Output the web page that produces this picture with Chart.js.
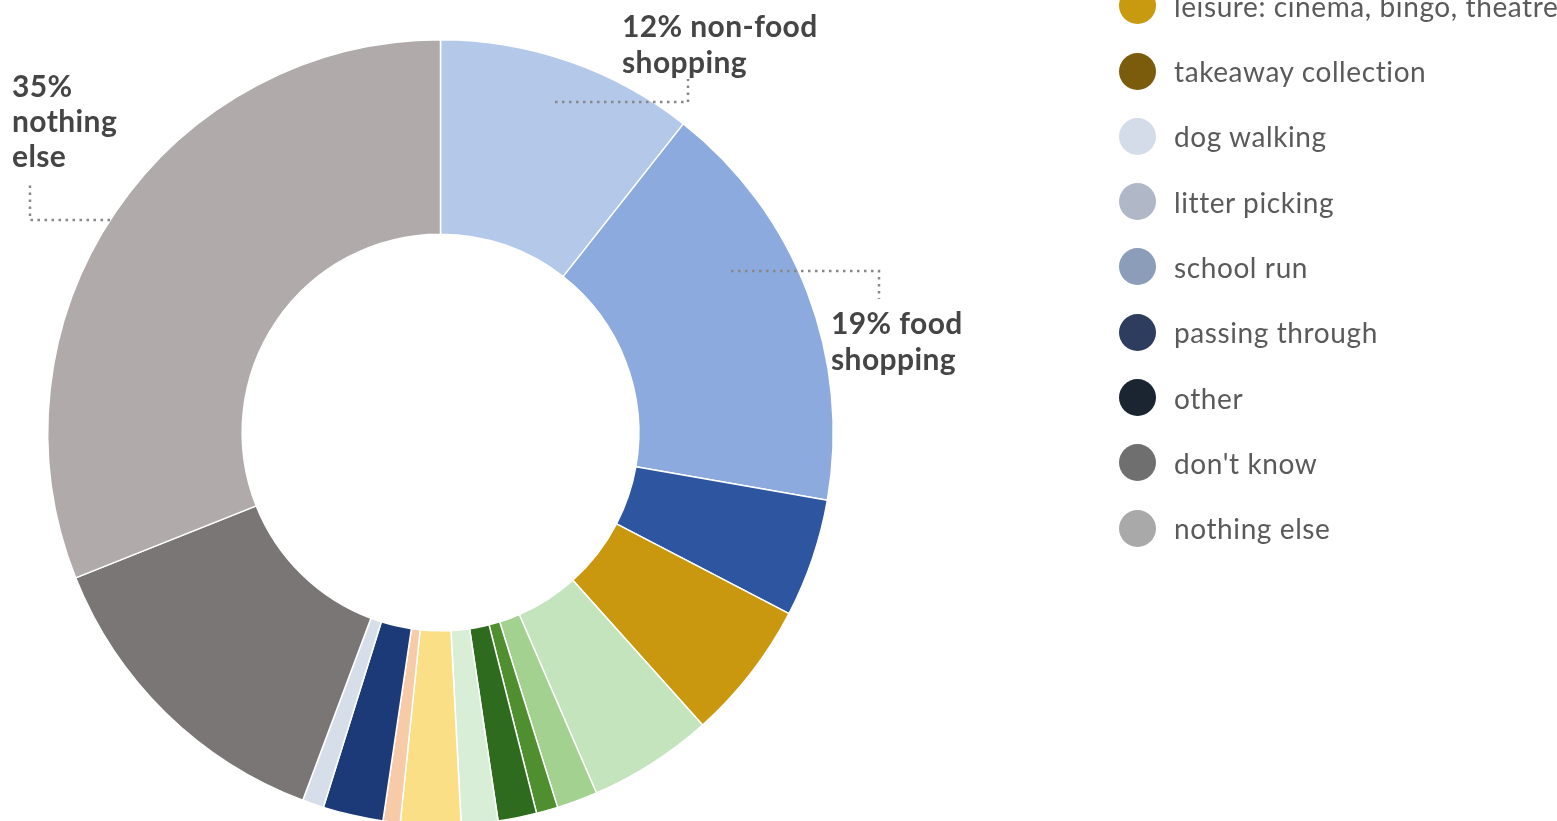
<!DOCTYPE html>
<html><head><meta charset="utf-8">
<script src="https://cdn.jsdelivr.net/npm/chart.js@4.4.1/dist/chart.umd.min.js"></script>
<style>
html,body{margin:0;padding:0;width:1557px;height:821px;overflow:hidden;background:#fff;}
#wrap{position:absolute;left:0;top:0;width:1557px;height:830px;}
.callout{position:absolute;font-family:Lato,"Open Sans",sans-serif;font-weight:700;color:#454545;font-size:30px;letter-spacing:0.4px;white-space:nowrap;}
.li{position:absolute;left:1119px;height:38px;display:flex;align-items:center;white-space:nowrap;font-family:Lato,"Open Sans",sans-serif;font-weight:400;font-size:28px;letter-spacing:0.6px;color:#5a5a5a;}
.dot{width:37px;height:37px;border-radius:50%;margin-right:18px;flex:none;}
</style></head>
<body>
<div id="wrap"><canvas id="c" width="1557" height="830" style="width:1557px;height:830px"></canvas></div>
<div id="labels"></div>
<div id="legend"></div>
<script>
// ---- data ----
const categories = ["non-food shopping","food shopping","work","leisure: cinema, bingo, theatre","eating out","café","pub","exercise","visiting friends","health services","personal services","passing through","dog walking","don't know","nothing else"];
const values = [12.0, 19.4, 5.5, 6.5, 5.8, 1.9, 1.0, 1.8, 1.7, 2.8, 0.8, 2.8, 1.0, 15.0, 35.1];
const colors = ["#b4c8ea","#8caadd","#2e55a0","#c9980e","#c4e4bd","#a3d190","#4f8f2f","#2f6b1f","#d9eed6","#fbdf86","#f8cba8","#1c3a78","#d6deea","#7a7675","#b0abaa"];
const legendLabels = ["leisure: cinema, bingo, theatre","takeaway collection","dog walking","litter picking","school run","passing through","other","don't know","nothing else"];
const legendColors = ["#c89a10","#7a5c0c","#d5dce9","#b0b8c7","#8b9db8","#2e3d5e","#1b2531","#6f6f6f","#a9a9a9"];
// callouts: index into data, text lines
const callouts = [
  {i:0, lines:["non-food","shopping"], left:622, top:7, lh:36},
  {i:1, lines:["food","shopping"], left:831, top:304, lh:36},
  {i:14, lines:["","nothing","else"], left:12, top:68, lh:35}
];
const leaders = [
  [[555,102],[688,102],[688,79]],
  [[731,271],[879,271],[879,299]],
  [[110,220],[30,220],[30,184]]
];

// ---- callout labels (HTML text) ----
const labDiv = document.getElementById('labels');
callouts.forEach(c => {
  const d = document.createElement('div');
  d.className = 'callout';
  d.style.left = c.left + 'px';
  d.style.top = c.top + 'px';
  d.style.lineHeight = c.lh + 'px';
  const pct = Math.round(values[c.i]) + '%';
  const ls = c.lines.slice();
  ls[0] = ls[0] ? pct + ' ' + ls[0] : pct;
  d.innerHTML = ls.join('<br>');
  labDiv.appendChild(d);
});

// ---- legend (HTML) ----
const lg = document.getElementById('legend');
legendLabels.forEach((t, k) => {
  const row = document.createElement('div');
  row.className = 'li';
  row.style.top = (5.7 + k * 65.3 - 19) + 'px';
  const dot = document.createElement('span');
  dot.className = 'dot';
  dot.style.background = legendColors[k];
  const tx = document.createElement('span');
  tx.textContent = t;
  row.appendChild(dot); row.appendChild(tx);
  lg.appendChild(row);
});

// ---- leader lines plugin ----
const leaderPlugin = {
  id: 'leaders',
  afterDraw(chart) {
    const ctx = chart.ctx;
    ctx.save();
    ctx.strokeStyle = '#888888';
    ctx.lineWidth = 2.5;
    ctx.setLineDash([2.5, 4.5]);
    leaders.forEach(pts => {
      ctx.beginPath();
      ctx.moveTo(pts[0][0], pts[0][1]);
      for (let k = 1; k < pts.length; k++) ctx.lineTo(pts[k][0], pts[k][1]);
      ctx.stroke();
    });
    ctx.restore();
  }
};

new Chart(document.getElementById('c'), {
  type: 'doughnut',
  data: {
    labels: categories,
    datasets: [{
      data: values,
      backgroundColor: colors,
      borderColor: '#ffffff',
      borderWidth: 1.5
    }]
  },
  options: {
    responsive: false,
    animation: false,
    devicePixelRatio: 1,
    cutout: '50.5%',
    layout: { padding: { left: 47, top: 39, right: 723, bottom: 4 } },
    plugins: { legend: { display: false }, tooltip: { enabled: true } }
  },
  plugins: [leaderPlugin]
});
</script>
</body></html>
